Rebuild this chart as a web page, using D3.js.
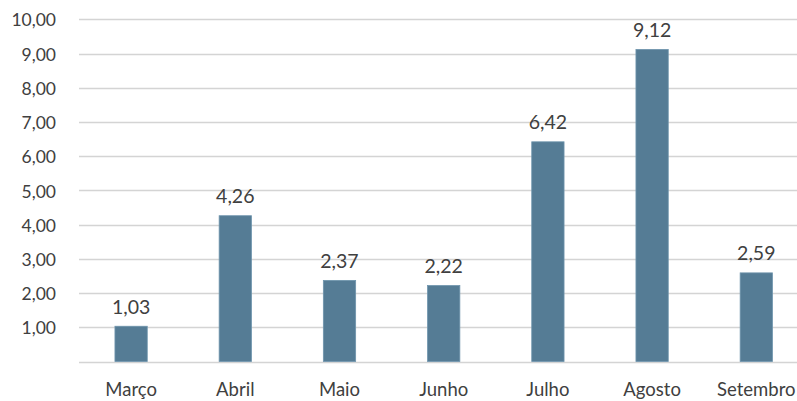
<!DOCTYPE html>
<html>
<head>
<meta charset="utf-8">
<script src="https://cdn.jsdelivr.net/npm/d3@7"></script>
<style>
  html, body { margin: 0; padding: 0; background: #fff; overflow: hidden; }
  svg { display: block; }
</style>
</head>
<body>
<svg id="chart" width="797" height="401"></svg>
<script>
const categories = ["Março", "Abril", "Maio", "Junho", "Julho", "Agosto", "Setembro"];
const values = [1.03, 4.26, 2.37, 2.22, 6.42, 9.12, 2.59];
const yTicks = [1, 2, 3, 4, 5, 6, 7, 8, 9, 10];

const fmt = v => d3.format(".2f")(v).replace(".", ",");

const svg = d3.select("#chart");
const left = 79, bandStep = 104.2;
const x = d3.scaleBand()
  .domain(categories)
  .range([left, left + bandStep * categories.length])
  .paddingInner(0.69)
  .paddingOuter(0.345);
const y = d3.scaleLinear().domain([0, 10]).range([361.5, 19.3]);

const font = "Lato, 'Open Sans', sans-serif";
const textColor = "#404040";

// gridlines
svg.append("g").selectAll("line")
  .data([0].concat(yTicks))
  .join("line")
  .attr("x1", left).attr("x2", 797)
  .attr("y1", d => Math.round(y(d)) + 0.5).attr("y2", d => Math.round(y(d)) + 0.5)
  .attr("stroke", "#d4d4d4")
  .attr("stroke-width", 1.6);

// y axis labels
const yAxis = d3.axisLeft(y).tickValues(yTicks).tickFormat(fmt).tickSize(0).tickPadding(0);
const gy = svg.append("g").attr("transform", "translate(56,0)").call(yAxis);
gy.select(".domain").remove();
gy.selectAll("text")
  .attr("fill", textColor)
  .style("font-family", font)
  .style("font-size", "17.5px")
  .attr("dy", "0.38em");

// bars
svg.append("g").selectAll("rect")
  .data(values)
  .join("rect")
  .attr("x", (d, i) => x(categories[i]))
  .attr("width", x.bandwidth())
  .attr("y", d => y(d))
  .attr("height", d => y(0) - y(d))
  .attr("fill", "#557c95")
  .attr("stroke", "#6f95ad")
  .attr("stroke-width", 0.8);

// data labels
svg.append("g").selectAll("text")
  .data(values)
  .join("text")
  .attr("x", (d, i) => x(categories[i]) + x.bandwidth() / 2)
  .attr("y", d => y(d) - 12.5)
  .attr("text-anchor", "middle")
  .attr("fill", textColor)
  .style("font-family", font)
  .style("font-size", "19.5px")
  .text(d => fmt(d));

// x axis labels
const xAxis = d3.axisBottom(x).tickSize(0).tickPadding(0);
const gx = svg.append("g").attr("transform", "translate(0,396)").call(xAxis);
gx.select(".domain").remove();
gx.selectAll("text")
  .attr("dy", 0)
  .attr("fill", textColor)
  .style("font-family", font)
  .style("font-size", "18.5px");
</script>
</body>
</html>
